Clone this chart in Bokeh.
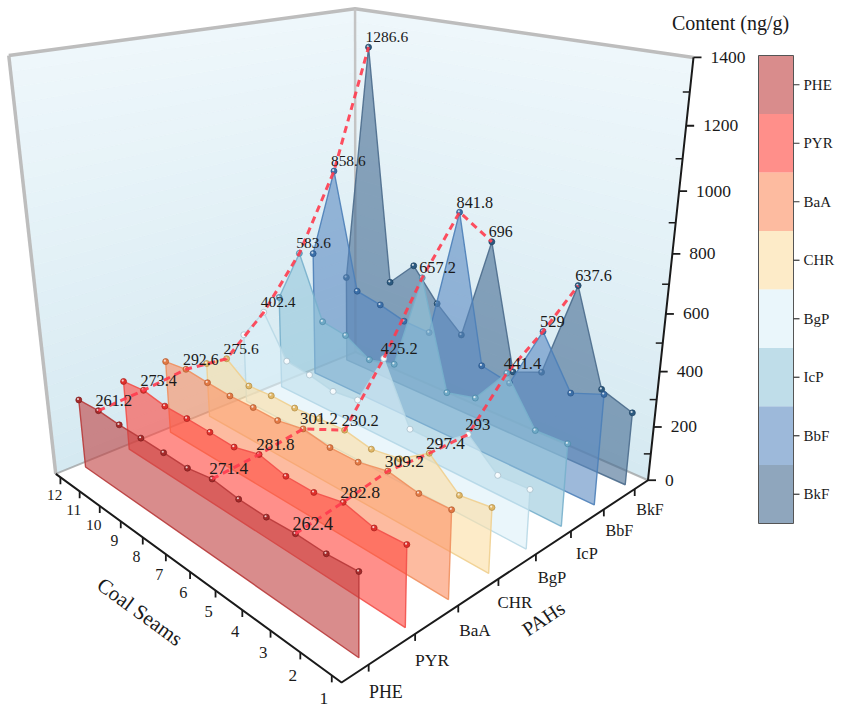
import numpy as np
from bokeh.plotting import figure
from bokeh.models import Range1d, ColumnDataSource
from bokeh.embed import file_html
from bokeh.resources import INLINE
from bokeh.core.properties import value, field

# ---------------- data ----------------
pahs = ["PHE", "PYR", "BaA", "CHR", "BgP", "IcP", "BbF", "BkF"]
seams = [1, 2, 3, 4, 5, 6, 7, 8, 9, 10, 11, 12]
PHE = [268, 260, 262.4, 257, 259, 271.4, 255, 257, 258, 257, 261.2, 255]
PYR = [265, 258, 282.8, 260, 260, 281.8, 257, 260, 261, 260, 273.4, 263]
BaA = [293.5, 290, 309.2, 287, 285.7, 301.2, 283, 283, 280, 285, 292.6, 280.5]
CHR = [223, 208, 297.4, 228, 211, 230.2, 225, 217.5, 219, 212, 275.6, 215]
BgP = [207, 202, 293, 215, 215, 425.2, 230, 218, 238, 250, 402.4, 275]
IcP = [291, 288, 441.4, 310, 285, 657.2, 305, 281, 335, 351, 583.6, 375]
BbF = [395, 355, 529, 303, 325, 841.8, 370, 376, 403, 422, 858.6, 507]
BkF = [267, 307, 637.6, 284, 243, 696, 307, 394, 510, 410, 1286.6, 362]
labelled_seams = [11, 6, 3]
z_ticks = [0, 200, 400, 600, 800, 1000, 1200, 1400]
z_max = 1400

series = [PHE, PYR, BaA, CHR, BgP, IcP, BbF, BkF]

# ---------------- styles ----------------
fill_colors = ["#c04040", "#ff453c", "#fb8e61", "#fbdea3", "#dcf0f8", "#94c6da", "#5c8ac1", "#446b91"]
edge_colors = ["#b83a3a", "#f2504a", "#f0905f", "#efcf8f", "#b8d8e6", "#78b0cc", "#4d7fb8", "#4b6b8c"]
dot_colors = ["#a52a2a", "#e0302b", "#e27a45", "#e0b868", "#f4fafd", "#6fa9c6", "#3b6fa8", "#2c5a80"]
dot_edges = ["#7a1c1c", "#a81f1c", "#b0582c", "#b08a40", "#9fb8c4", "#4a87a6", "#2a5488", "#1d4060"]
SERIF = "Liberation Serif"

# ---------------- camera (unit box: seam, PAH, content -> page pixels) ----------------
box_world = [(0, 0, 0), (1, 0, 0), (0, 1, 0), (1, 0, 1), (0, 1, 1), (1, 1, 1),
             (0, 1, 1 / 7), (0, 1, 3 / 7), (0, 1, 5 / 7)]
box_page = [(341.7, 682), (55, 473), (648, 480), (8, 55.5), (693, 56.5), (355, 8.3),
            (652.6, 426.7), (665, 313.3), (678.6, 190.7)]
SEAM_LO, SEAM_HI = 0.7, 12.25
PAH_LO, PAH_HI = 0.45, 8.45


def fit_camera(world, screen):
    S = np.array(screen, float)
    Wd = np.array(world, float)
    c = S.mean(0)
    s = np.sqrt(2) / np.mean(np.linalg.norm(S - c, axis=1))
    T = np.array([[s, 0, -s * c[0]], [0, s, -s * c[1]], [0, 0, 1]])
    Sn = (S - c) * s
    rows = []
    for (X, Y, Z), (x, y) in zip(Wd, Sn):
        rows.append([X, Y, Z, 1, 0, 0, 0, 0, -x * X, -x * Y, -x * Z, -x])
        rows.append([0, 0, 0, 0, X, Y, Z, 1, -y * X, -y * Y, -y * Z, -y])
    _, _, Vt = np.linalg.svd(np.array(rows))
    Pn = Vt[-1].reshape(3, 4)
    return np.linalg.inv(T) @ Pn


P = fit_camera(box_world, box_page)


def proj(u, v, w):
    u, v, w = np.broadcast_arrays(np.asarray(u, float), np.asarray(v, float), np.asarray(w, float))
    r = P @ np.stack([u.ravel(), v.ravel(), w.ravel(), np.ones(u.size)])
    return r[0] / r[2], r[1] / r[2], r[2]


def su(s):
    return (np.asarray(s, float) - SEAM_LO) / (SEAM_HI - SEAM_LO)


def pv(i):
    return (np.asarray(i, float) + 1 - PAH_LO) / (PAH_HI - PAH_LO)


def zw(z):
    return np.asarray(z, float) / z_max


H_REF = proj(0, 0, 0)[2][0]


def fscale(h):
    return np.sqrt(np.abs(H_REF / h))


# ---------------- figure ----------------
W, H = 842, 707
p = figure(width=W, height=H, x_range=Range1d(0, W), y_range=Range1d(H, 0),
           output_backend="svg", toolbar_location=None, min_border=0,
           x_axis_location=None, y_axis_location=None, outline_line_color=None,
           background_fill_color="white", border_fill_color="white")
p.xgrid.visible = False
p.ygrid.visible = False

# walls with soft vertical gradient
n = 30
ws = np.linspace(0, 1, n + 1)
c0 = np.array([0xd5, 0xe9, 0xf1], float)
c1 = np.array([0xee, 0xf7, 0xfb], float)
wx, wy, wc = [], [], []
for k in range(n):
    t = (ws[k] + ws[k + 1]) / 2
    col = "#%02x%02x%02x" % tuple(int(round(a)) for a in c0 + (c1 - c0) * t)
    x, y, _ = proj([1, 1, 1, 1], [0, 1, 1, 0], [ws[k], ws[k], ws[k + 1], ws[k + 1]])
    wx.append(list(x)); wy.append(list(y)); wc.append(col)
    x, y, _ = proj([1, 0, 0, 1], [1, 1, 1, 1], [ws[k], ws[k], ws[k + 1], ws[k + 1]])
    wx.append(list(x)); wy.append(list(y)); wc.append(col)
p.patches(wx, wy, fill_color=wc, line_color=wc, line_width=0.6)

# wall frame
x, y, _ = proj([1, 1, 1, 1, 0], [0, 0, 1, 1, 1], [0, 1, 1, 1, 1])
p.line(x[1:], y[1:], line_color="#bdbdbd", line_width=3.5)
p.line(x[:2], y[:2], line_color="#bdbdbd", line_width=3.5)
x, y, _ = proj([1, 1], [1, 1], [0, 1])
p.line(x, y, line_color="#c4c4c4", line_width=2.5)
x, y, _ = proj([1, 1, 0], [0, 1, 1], [0, 0, 0])
p.line(x, y, line_color="#9a9a9a", line_width=2, line_alpha=0.7)

# axes lines
x, y, _ = proj([1, 0, 0, 0], [0, 0, 1, 1], [0, 0, 0, 1])
p.line(x, y, line_color="#1a1a1a", line_width=2)

# seam ticks / labels
sx, sy, sh = proj(su(seams), 0, 0)
p.segment(sx, sy, sx, sy + 7, line_color="#1a1a1a", line_width=1.8)
lx, ly, lh = proj(su(seams), -0.02, -0.041)
src = ColumnDataSource(dict(x=lx, y=ly, text=[str(s) for s in seams],
                            fs=["%.1fpx" % (17.5 * f) for f in fscale(lh)]))
p.text(x="x", y="y", text="text", source=src, text_font=value(SERIF), text_font_size=field("fs"),
       text_align="center", text_baseline="middle", text_color="#1a1a1a")

# PAH ticks / labels
idx = np.arange(len(pahs))
tx, ty, _ = proj(0, pv(idx), 0)
p.segment(tx, ty, tx, ty + 7, line_color="#1a1a1a", line_width=1.8)
lx, ly, lh = proj(-0.045, pv(idx), -0.035)
src = ColumnDataSource(dict(x=lx, y=ly, text=pahs,
                            fs=["%.1fpx" % (18 * f) for f in fscale(lh)]))
p.text(x="x", y="y", text="text", source=src, text_font=value(SERIF), text_font_size=field("fs"),
       text_align="center", text_baseline="middle", text_color="#1a1a1a")

# z ticks / labels
zx, zy, _ = proj(0, 1, zw(z_ticks))
p.segment(zx, zy, zx + 8, zy, line_color="#1a1a1a", line_width=1.8)
z_minor = [(a + b) / 2 for a, b in zip(z_ticks[:-1], z_ticks[1:])]
mx, my, _ = proj(0, 1, zw(z_minor))
p.segment(mx - 7, my, mx, my, line_color="#1a1a1a", line_width=1.5)
p.text(x=list(zx + 17), y=list(zy), text=[str(z) for z in z_ticks], text_font=value(SERIF),
       text_font_size="17.5px", text_align="left", text_baseline="middle", text_color="#1a1a1a")

# axis titles
ax0 = proj([0.65, 0.55], 0, 0)
ang = np.arctan2(-(ax0[1][1] - ax0[1][0]), ax0[0][1] - ax0[0][0])
tx_, ty_, _ = proj(0.57, -0.06, -0.13)
p.text(x=list(tx_), y=list(ty_), text=["Coal Seams"], angle=float(ang), text_font=value(SERIF),
       text_font_size="21px", text_align="center", text_baseline="middle", text_color="#1a1a1a")
ax1 = proj(0, [0.55, 0.65], 0)
ang = np.arctan2(-(ax1[1][1] - ax1[1][0]), ax1[0][1] - ax1[0][0])
tx_, ty_, _ = proj(-0.03, 0.57, -0.15)
p.text(x=list(tx_), y=list(ty_), text=["PAHs"], angle=float(ang), text_font=value(SERIF),
       text_font_size="20px", text_align="center", text_baseline="middle", text_color="#1a1a1a")
cx, cy, _ = proj(0, 1, 1)
p.text(x=[cx[0] + 37], y=[cy[0] - 34], text=["Content (ng/g)"], text_font=value(SERIF),
       text_font_size="20px", text_align="center", text_baseline="middle", text_color="#1a1a1a")

# curtains, back to front
for i in reversed(range(len(pahs))):
    vals = np.array(series[i], float)
    u = su(seams)
    xt, yt, _ = proj(u, pv(i), zw(vals))
    xb, yb, _ = proj(u, pv(i), 0)
    px = [xb[0]] + list(xt) + [xb[-1]]
    py = [yb[0]] + list(yt) + [yb[-1]]
    p.patch(px, py, fill_color=fill_colors[i], fill_alpha=0.6,
            line_color=edge_colors[i], line_width=1.4, line_alpha=0.9)
    p.scatter(xt, yt, size=6, fill_color=dot_colors[i], line_color=dot_edges[i], line_width=0.7)
    p.scatter(xt - 0.8, yt - 0.9, size=2.2, fill_color="white", line_color=None, fill_alpha=0.75)

# dashed lines through labelled seams
for s in labelled_seams:
    j = seams.index(s)
    vals = [series[i][j] for i in range(len(pahs))]
    x, y, _ = proj(su(s), pv(idx), zw(vals))
    p.line(x, y, line_color="#ff3b4e", line_width=3, line_dash="7 5", line_alpha=0.9)

# value labels
lx, ly, lt, lf = [], [], [], []
for s in labelled_seams:
    j = seams.index(s)
    for i in range(len(pahs)):
        v = series[i][j]
        x, y, h = proj(su(s), pv(i), zw(v))
        lx.append(x[0] - 3); ly.append(y[0] - 10)
        lt.append(f"{v:g}")
        lf.append("%.1fpx" % (18.5 * fscale(h)[0]))
src = ColumnDataSource(dict(x=lx, y=ly, text=lt, fs=lf))
p.text(x="x", y="y", text="text", source=src, text_font=value(SERIF), text_font_size=field("fs"),
       text_align="left", text_baseline="middle", text_color="#1a1a1a")

# colour bar legend
CB_L, CB_R, CB_T, CB_B = 758, 793, 55, 523
step = (CB_B - CB_T) / len(pahs)
tops = [CB_T + k * step for k in range(len(pahs))]
bots = [t + step for t in tops]
p.quad(left=CB_L, right=CB_R, top=tops, bottom=bots, fill_color=fill_colors, fill_alpha=0.6, line_color=None)
p.quad(left=[CB_L], right=[CB_R], top=[CB_T], bottom=[CB_B], fill_color=None, line_color="#555555", line_width=1)
mids = [t + step / 2 for t in tops]
p.segment([CB_R] * len(mids), mids, [CB_R + 6] * len(mids), mids, line_color="#333333", line_width=1.2)
p.text(x=[CB_R + 10] * len(mids), y=mids, text=pahs, text_font=value(SERIF), text_font_size="15px",
       text_align="left", text_baseline="middle", text_color="#1a1a1a")

open("out.html", "w").write(file_html(p, INLINE))
